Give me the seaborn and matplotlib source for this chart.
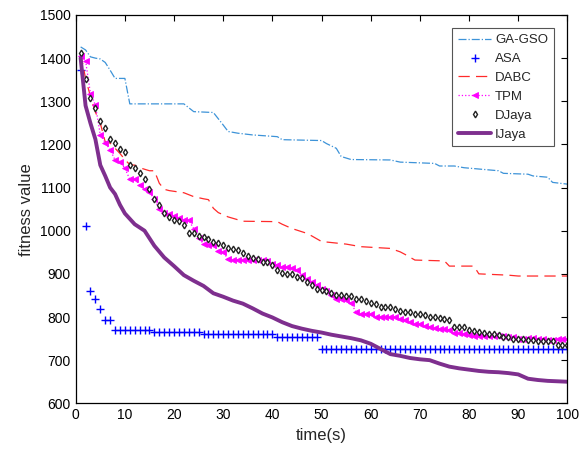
import numpy as np
import pandas as pd
import seaborn as sns
import matplotlib
matplotlib.use("Agg")
import matplotlib.pyplot as plt

# time axis for the sampled series (one sample per second)
t = np.arange(1, 101)

asa = ([1372, 1010, 861, 841, 819, 794, 794] + [769] * 8 + [766] * 10
       + [761] * 15 + [754] * 9 + [725] * 51)

tpm = [1405, 1394, 1318, 1291, 1222, 1204, 1188, 1164, 1160, 1145,
       1119, 1119, 1107, 1097, 1089, 1073, 1050, 1041, 1039, 1033,
       1029, 1026, 1024, 1005, 982, 970, 967, 967, 953, 950,
       934, 933, 933, 933, 933, 933, 932, 931, 929, 924,
       920, 917, 915, 914, 909, 897, 887, 882, 874, 866,
       861, 852, 841, 841, 840, 832, 812, 808, 808, 806,
       801, 800, 800, 800, 799, 795, 793, 788, 784, 783,
       779, 777, 775, 773, 772, 770, 762, 762, 761, 758,
       757, 757, 756, 756, 755, 755, 755, 754, 754, 750,
       750, 751, 751, 748, 748, 747, 747, 748, 748, 748]

djaya = [1413, 1352, 1307, 1284, 1255, 1237, 1212, 1203, 1189, 1182,
         1153, 1145, 1134, 1119, 1097, 1074, 1060, 1042, 1032, 1025,
         1022, 1013, 995, 994, 988, 985, 980, 975, 971, 967,
         961, 958, 955, 948, 941, 937, 935, 928, 927, 920,
         910, 903, 900, 900, 893, 890, 882, 874, 864, 862,
         861, 856, 852, 852, 849, 848, 841, 841, 837, 833,
         830, 824, 824, 823, 818, 815, 812, 811, 807, 807,
         804, 800, 800, 797, 795, 793, 777, 777, 776, 771,
         767, 766, 762, 761, 760, 759, 753, 753, 750, 749,
         749, 747, 747, 745, 745, 745, 745, 735, 735, 735]

# line-only series, read at their break points
ga_t = [1, 2, 3, 4, 5, 6, 7, 8, 10, 11, 22, 23, 24, 28, 30, 31, 33, 36, 41, 42,
        50, 51, 53, 54, 56, 64, 66, 73, 74, 77, 79, 82, 86, 87, 92, 93, 96, 97, 100]
ga_gso = [1426, 1419, 1403, 1400, 1398, 1390, 1372, 1353, 1353, 1294, 1294, 1285,
          1276, 1274, 1245, 1230, 1226, 1222, 1218, 1211, 1209, 1202, 1191, 1172,
          1165, 1164, 1159, 1156, 1150, 1150, 1146, 1143, 1139, 1133, 1131, 1127,
          1124, 1112, 1108]

dabc_t = [1, 2, 3, 4, 5, 6, 7, 9, 10, 11, 12, 13, 15, 16, 17, 18, 19, 22, 24, 26,
          27, 28, 29, 31, 34, 41, 42, 44, 47, 48, 50, 55, 58, 64, 66, 67, 69, 75,
          76, 81, 82, 88, 90, 100]
dabc = [1412, 1353, 1311, 1275, 1249, 1206, 1203, 1179, 1165, 1153, 1152, 1146,
        1139, 1139, 1110, 1096, 1093, 1088, 1079, 1074, 1072, 1052, 1042, 1032,
        1022, 1021, 1015, 1005, 994, 988, 975, 969, 963, 959, 951, 945, 932, 930,
        918, 918, 900, 897, 895, 895]

ij_t = [1, 2, 3, 4, 5, 6, 7, 8, 9, 10, 12, 14, 16, 18, 20, 22, 24, 26, 28, 30,
        32, 34, 36, 38, 40, 42, 44, 46, 48, 50, 52, 54, 56, 58, 60, 62, 64, 66,
        68, 70, 72, 74, 76, 78, 80, 82, 84, 86, 88, 90, 92, 94, 96, 98, 100]
ijaya = [1400, 1290, 1249, 1212, 1152, 1127, 1100, 1085, 1060, 1040, 1015, 1000,
         965, 938, 918, 897, 884, 872, 855, 847, 838, 831, 820, 808, 799, 788,
         779, 773, 768, 764, 759, 755, 751, 746, 738, 726, 714, 710, 705, 702,
         700, 692, 685, 681, 678, 675, 673, 672, 670, 667, 657, 654, 652, 651, 650]


def main():
    sns.set_style("white")
    plt.rcParams["font.family"] = ["Liberation Sans", "DejaVu Sans"]
    plt.rcParams["xtick.direction"] = "in"
    plt.rcParams["ytick.direction"] = "in"

    fig = plt.figure(figsize=(5.87, 4.57), dpi=100)
    ax = fig.add_axes([0.129, 0.1175, 0.8375, 0.8497])

    sns.lineplot(x=ga_t, y=ga_gso, ax=ax, color="#3d93d8", lw=0.9,
                 ls="-.", label="GA-GSO")
    sns.lineplot(x=t, y=asa, ax=ax, color="#0000ff", ls="none", marker="+",
                 ms=6, mec="#0000ff", mew=1.0, label="ASA")
    sns.lineplot(x=dabc_t, y=dabc, ax=ax, color="#ff2a2a", lw=0.9,
                 ls=(0, (9, 5)), label="DABC")
    sns.lineplot(x=t, y=tpm, ax=ax, color="#ff00ff", lw=0.9, ls=":",
                 marker="<", ms=5, mec="#ff00ff", mfc="#ff00ff", mew=0.6,
                 label="TPM")
    sns.lineplot(x=t, y=djaya, ax=ax, color="black", ls="none", marker="d",
                 ms=3.4, mec="#222222", mfc="white", mew=1.0, label="DJaya")
    sns.lineplot(x=ij_t, y=ijaya, ax=ax, color="#7e2f8e", lw=2.8,
                 label="IJaya")

    ax.set_xlim(0, 100)
    ax.set_ylim(600, 1500)
    ax.set_xticks(range(0, 101, 10))
    ax.set_yticks(range(600, 1501, 100))
    ax.tick_params(top=True, right=True, labelsize=10, length=4,
                   width=0.8, colors="black")
    for s in ax.spines.values():
        s.set_color("black")
        s.set_linewidth(0.9)
    ax.set_xlabel("time(s)", fontsize=12, labelpad=4)
    ax.set_ylabel("fitness value", fontsize=12, labelpad=4)

    leg = ax.legend(loc="upper right", fontsize=9.5, frameon=True,
                    fancybox=False, edgecolor="#555555", framealpha=1,
                    handlelength=2.5, labelspacing=0.5,
                    borderaxespad=1.0, borderpad=0.45, handletextpad=0.3)
    leg.get_frame().set_linewidth(0.8)

    fig.savefig("out.png", dpi=100)


if __name__ == "__main__":
    main()
